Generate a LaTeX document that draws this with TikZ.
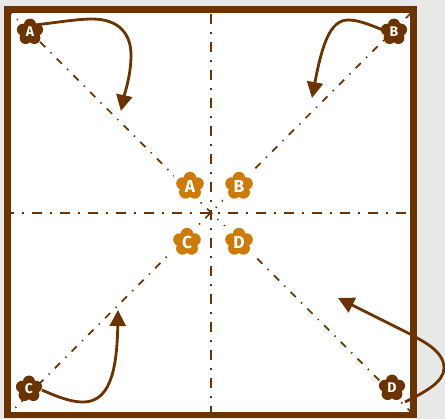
\documentclass[tikz,border=0pt]{standalone}
\usepackage{fontspec}
\setmainfont{Fira Sans}
\usetikzlibrary{arrows.meta, calc}
\definecolor{pgbg}{HTML}{E8E8E6}
\definecolor{pgbrown}{HTML}{6B3300}
\definecolor{pgorange}{HTML}{CC7A0A}
\tikzset{
  frameline/.style={draw=pgbrown, line width=5.2pt, fill=white},
  foldline/.style={draw=pgbrown, line width=1.8pt, dash pattern=on 7.5pt off 6pt on 1.5pt off 6pt},
  diagline/.style={draw=pgbrown, line width=1.3pt, dash pattern=on 5.5pt off 5.6pt on 1pt off 5.6pt},
  turn/.style={-{Triangle[length=12pt, width=12pt]}, draw=pgbrown, line width=2.1pt},
  mask/.style={fill=white, inner sep=0pt, minimum size=24pt},
  spot/.style={inner sep=0pt, minimum size=18pt},
  letterbig/.style={text=white, font=\fontsize{13}{13}\selectfont\bfseries, inner sep=0pt},
  lettersmall/.style={text=white, font=\fontsize{10.5}{10.5}\selectfont\bfseries, inner sep=0pt},
  pics/flower/.style n args={3}{code={
    \foreach \ang in {90,162,234,306,18}
      \fill[#1] (\ang:#2*0.62) circle[radius=#2*0.5];
    \fill[#1] (0,0) circle[radius=#2*0.7];
    #3
  }},
}
\begin{document}
\begin{tikzpicture}[x=0.75pt, y=-0.75pt]
  \useasboundingbox (0,0) rectangle (445,419);
  \fill[pgbg] (0,0) rectangle (445,419);
  \draw[frameline] (7.5,9.5) rectangle (413.5,415);

  \coordinate (nw) at (11,13);
  \coordinate (ne) at (411,13);
  \coordinate (sw) at (11,412);
  \coordinate (se) at (411,412);
  \coordinate (top) at (211,14);
  \coordinate (bot) at (211,412);
  \coordinate (lft) at (11,213);
  \coordinate (rgt) at (411,213);

  \draw[foldline] (top) -- (bot);
  \draw[foldline, dash phase=5.25pt] (lft) -- (rgt);
  \draw[diagline, dash phase=4.7pt] (nw) -- (se);
  \draw[diagline] (ne) -- (sw);

  \node[spot] (cornerA) at (30,32) {};
  \node[spot] (cornerB) at (394,32) {};
  \node[spot] (cornerC) at (29,389) {};
  \node[spot] (cornerD) at (392,388) {};
  \node[mask] (innerA) at (190,186) {};
  \node[mask] (innerB) at (239,186) {};
  \node[mask] (innerC) at (187,242) {};
  \node[mask] (innerD) at (239,242) {};

  % corner flowers
  \pic at (cornerA) {flower={pgbrown}{9pt}{\node[lettersmall] {A};}};
  \pic at (cornerB) {flower={pgbrown}{9pt}{\node[lettersmall] {B};}};
  \pic at (cornerC) {flower={pgbrown}{9pt}{\node[lettersmall] {C};}};
  \pic at (cornerD) {flower={pgbrown}{9pt}{\node[lettersmall] {D};}};

  % inner flowers
  \pic at (innerA) {flower={pgorange}{9.5pt}{\node[letterbig] {A};}};
  \pic at (innerB) {flower={pgorange}{9.5pt}{\node[letterbig] {B};}};
  \pic at (innerC) {flower={pgorange}{9.5pt}{\node[letterbig] {C};}};
  \pic at (innerD) {flower={pgorange}{9.5pt}{\node[letterbig] {D};}};

  \coordinate (startA) at ($(cornerA)+(5,-7)$);
  \coordinate (startB) at ($(cornerB)+(-11,-2)$);
  \coordinate (startC) at ($(cornerC)+(13,1)$);
  \coordinate (startD) at (405,402);
  \coordinate (tipA) at (121,111);
  \coordinate (tipB) at (312,98);
  \coordinate (tipC) at (118,310);
  \coordinate (tipD) at (338,298);

  \draw[turn] (startA) .. controls (60,22) and (78,19) .. (92,19) .. controls (120,19) and (131,35) .. (131,55) .. controls (131,75) and (125,92) .. (tipA);
  \draw[turn] (startB) .. controls (368,24) and (358,20) .. (348,20) .. controls (330,20) and (322,45) .. (tipB);
  \draw[turn] (startC) .. controls (60,398) and (72,402) .. (83,402) .. controls (108,402) and (117,375) .. (tipC);
  \draw[turn] (startD) .. controls (425,392) and (444,382) .. (444,368) .. controls (444,350) and (420,340) .. (410,334) -- (tipD);
\end{tikzpicture}
\end{document}
